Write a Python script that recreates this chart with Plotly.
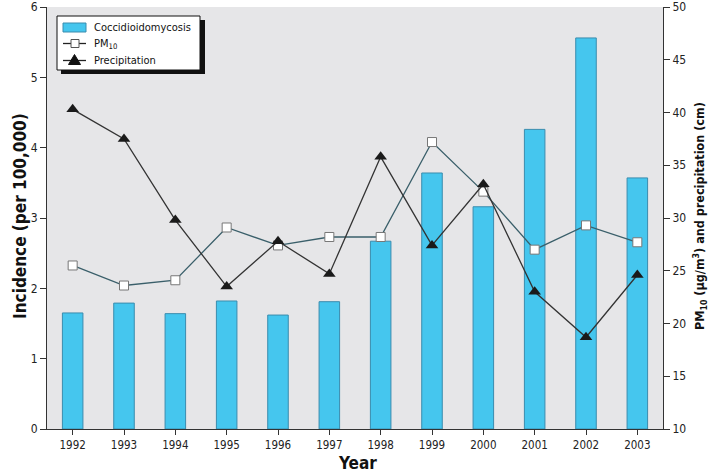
import plotly.graph_objects as go

# データ
years = ['1992', '1993', '1994', '1995', '1996', '1997',
         '1998', '1999', '2000', '2001', '2002', '2003']
incidence = [1.65, 1.79, 1.64, 1.82, 1.62, 1.81, 2.67, 3.64, 3.16, 4.26, 5.56, 3.57]
pm10 = [25.5, 23.6, 24.1, 29.1, 27.4, 28.2, 28.2, 37.2, 32.5, 27.0, 29.3, 27.7]
precipitation = [40.3, 37.5, 29.8, 23.5, 27.8, 24.7, 35.8, 27.4, 33.2, 23.0, 18.7, 24.6]
legend_labels = ['Coccidioidomycosis', 'PM<sub>10</sub>', 'Precipitation']

FONT = 'DejaVu Sans Condensed, Liberation Sans Narrow, sans-serif'
AXIS_COLOR = '#333333'
BAR_COLOR = '#45C6EE'
BAR_EDGE = '#3A8CAE'
PM_LINE = '#3A5F6A'
PRECIP_LINE = '#333333'

# プロット領域（ピクセル）
W, H = 714, 474
L, R, T, B = 47, 51, 7, 45
PW, PH = W - L - R, H - T - B


def px_to_paper(x, y):
    """ピクセル座標 → paper座標"""
    return (x - L) / PW, (H - B - y) / PH


def paper_rect(fig, x0, y0, x1, y1, **kw):
    """ピクセル指定の矩形をpaper座標で追加"""
    px0, py0 = px_to_paper(x0, y0)
    px1, py1 = px_to_paper(x1, y1)
    fig.add_shape(type='rect', xref='paper', yref='paper',
                  x0=px0, x1=px1, y0=py1, y1=py0, layer='above', **kw)


def paper_line(fig, x0, y0, x1, y1, **kw):
    px0, py0 = px_to_paper(x0, y0)
    px1, py1 = px_to_paper(x1, y1)
    fig.add_shape(type='line', xref='paper', yref='paper',
                  x0=px0, x1=px1, y0=py0, y1=py1, layer='above', **kw)


fig = go.Figure()

fig.add_trace(go.Bar(
    x=years, y=incidence, name=legend_labels[0],
    marker=dict(color=BAR_COLOR, line=dict(color=BAR_EDGE, width=1)),
    width=0.4, yaxis='y'
))

fig.add_trace(go.Scatter(
    x=years, y=pm10, name=legend_labels[1], mode='lines+markers',
    line=dict(color=PM_LINE, width=1.3),
    marker=dict(symbol='square', size=9, color='white',
                line=dict(color='#777777', width=1)),
    yaxis='y2'
))

fig.add_trace(go.Scatter(
    x=years, y=precipitation, name=legend_labels[2], mode='lines+markers',
    line=dict(color=PRECIP_LINE, width=1.3),
    marker=dict(symbol='triangle-up', size=11, color='#1a1a1a'),
    yaxis='y2'
))

# 凡例（手作り：影付きの白い箱）
paper_rect(fig, 61, 20, 205, 74, fillcolor='#111111', line=dict(width=0))
paper_rect(fig, 57, 16, 200, 70, fillcolor='white', line=dict(color='#111111', width=1))
# 棒
paper_rect(fig, 63, 23, 86, 32, fillcolor=BAR_COLOR, line=dict(color=BAR_EDGE, width=1))
# PM10
paper_line(fig, 63, 43.5, 86, 43.5, line=dict(color='#222222', width=1.3))
paper_rect(fig, 71, 39.5, 79, 47.5, fillcolor='white', line=dict(color='#555555', width=1))
# 降水量
paper_line(fig, 63, 60.5, 86, 60.5, line=dict(color='#222222', width=1.3))
t1 = px_to_paper(74.5, 54.5)
t2 = px_to_paper(68.5, 64.5)
t3 = px_to_paper(80.5, 64.5)
fig.add_shape(type='path', xref='paper', yref='paper', layer='above',
              path=f'M {t1[0]},{t1[1]} L {t2[0]},{t2[1]} L {t3[0]},{t3[1]} Z',
              fillcolor='#111111', line=dict(color='#111111', width=1))

for label, ypx in zip(legend_labels, [27.5, 43.5, 60.5]):
    lx, ly = px_to_paper(92, ypx)
    fig.add_annotation(x=lx, y=ly, xref='paper', yref='paper',
                       xanchor='left', yanchor='middle', showarrow=False,
                       text=label, font=dict(family=FONT, size=11, color='#111111'))

# 軸タイトル（注釈で配置）
ax_l, ay_l = px_to_paper(20, 216)
ax_r, ay_r = px_to_paper(700, 216)
ax_b, ay_b = px_to_paper(357, 463)
fig.add_annotation(x=ax_l, y=ay_l, xref='paper', yref='paper', textangle=-90,
                   xanchor='center', yanchor='middle',
                   text='<b>Incidence (per 100,000)</b>', showarrow=False,
                   font=dict(size=17, color='#111111'))
fig.add_annotation(x=ax_r, y=ay_r, xref='paper', yref='paper', textangle=-90,
                   xanchor='center', yanchor='middle',
                   text='<b>PM<sub>10</sub> (μg/m<sup>3</sup>) and precipitation (cm)</b>',
                   showarrow=False, font=dict(size=12.5, color='#111111'))
fig.add_annotation(x=ax_b, y=ay_b, xref='paper', yref='paper',
                   xanchor='center', yanchor='middle',
                   text='<b>Year</b>', showarrow=False,
                   font=dict(size=17, color='#111111'))

fig.update_layout(
    width=W, height=H,
    margin=dict(l=L, r=R, t=T, b=B, autoexpand=False),
    paper_bgcolor='white',
    plot_bgcolor='#E6E6E8',
    font=dict(family=FONT, size=12, color='#222222'),
    showlegend=False,
    xaxis=dict(
        type='category', range=[-0.5, 11.5],
        showgrid=False, zeroline=False, automargin=False,
        showline=True, linecolor=AXIS_COLOR, linewidth=1,
        ticks='outside', ticklen=5, tickcolor=AXIS_COLOR,
        tickfont=dict(size=11.5),
    ),
    yaxis=dict(
        range=[0, 6], dtick=1, automargin=False,
        showgrid=False, zeroline=False,
        showline=True, linecolor=AXIS_COLOR, linewidth=1,
        ticks='outside', ticklen=6, tickcolor=AXIS_COLOR,
        tickfont=dict(size=12),
    ),
    yaxis2=dict(
        range=[10, 50], dtick=5, overlaying='y', side='right', automargin=False,
        showgrid=False, zeroline=False,
        showline=True, linecolor=AXIS_COLOR, linewidth=1,
        ticks='outside', ticklen=6, tickcolor=AXIS_COLOR,
        tickfont=dict(size=12),
    ),
)

# ページ既定の余白を消して図を左上に揃える
fig.write_html('out.html', config={'displayModeBar': False},
               post_script="document.body.style.margin='0';")
